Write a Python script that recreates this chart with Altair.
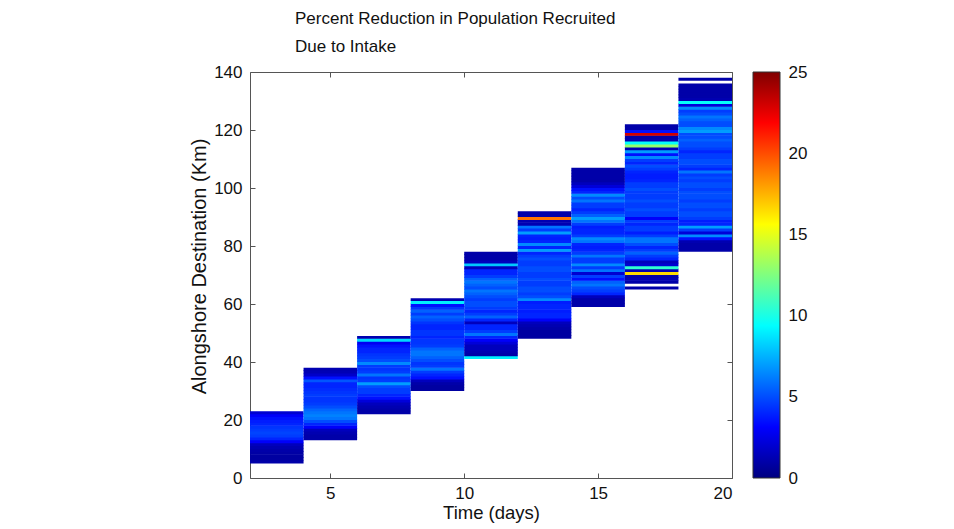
import altair as alt
import pandas as pd

# ---- data ----
T_START = [2, 4, 6, 8, 10, 12, 14, 16, 18]          # start day of each 2-day column
Y_START = [5, 13, 22, 30, 41, 48, 59, 65, 78]      # lowest alongshore km of each column

COL1 = [1, 0.8, 0.8, 0.9, 1, 1.2, 1.5, 3, 4, 4.6, 4.8, 4.6, 4.4, 4, 3.8, 3.5, 3, 2]
COL2 = [1, 1, 1.2, 1.5, 3, 4, 5, 6, 6.3, 6, 5.6, 5, 4.6, 4.4, 4.4, 4.6, 4.4, 4.2, 4, 4,
        5.2, 3.5, 1.8, 1.3, 1.2]
COL3 = [1, 1, 1.2, 1.5, 2.2, 3.5, 4, 4.6, 4.6, 5, 7, 4.6, 4.4, 6, 4.6, 4.4, 4.6, 6.5, 5, 4.6,
        4.4, 4, 4, 3.6, 2.8, 8.5, 1.2]
COL4 = [0.8, 0.8, 1, 1.5, 3.5, 4, 4.6, 6, 4.6, 4.4, 5, 5.5, 6, 6, 5.5, 4.6, 4.4, 4.4, 4, 4.4,
        4.4, 4, 4, 4.4, 5, 5.5, 4.6, 5.5, 4.4, 3.5, 9, 1.2]
COL5 = [9, 1, 1.2, 1.5, 1.5, 2.2, 3, 4, 6, 4.6, 4, 4, 1.5, 4, 5.5, 4.6, 4, 4.6, 5, 5,
        4.6, 5, 5.5, 6, 5, 5.5, 6, 5.5, 4.6, 4, 4, 1.5, 8, 1.5, 1, 1, 1]
COL6 = [0.8, 0.8, 0.8, 1, 1.2, 1.5, 3, 4, 4, 3.8, 4, 4, 3.8, 6.5, 5, 4.6, 5, 5, 4.6, 4.6,
        5, 4.6, 4.6, 5, 5, 4.6, 4.6, 5, 4.6, 4, 7, 4, 6.5, 4, 3.8, 4, 7, 4.6, 6, 1.2,
        1.2, 19, 1, 1]
COL7 = [1, 1, 1, 1.5, 4, 4.6, 5, 6, 5.5, 3.5, 4.6, 2, 6, 4.6, 6.5, 4.6, 4.6, 6, 4.6, 4,
        3.8, 4, 6, 6.5, 4.6, 4, 4, 3.8, 4.6, 6, 7, 5.5, 4.6, 4, 4.6, 4.6, 6, 5, 6.5, 4,
        3.5, 2.2, 1.5, 1, 1, 1, 1, 1]
COL8 = [1, None, 1, 1.2, 1, 16.5, 1.2, 10.5, 2, 1.5, 4, 4.6, 5.5, 4.6, 4, 5, 6, 6, 4.6, 3.8,
        4.6, 4.6, 4, 4.6, 3, 4.6, 4.6, 5, 4.6, 4.6, 5, 4.6, 4.6, 4.6, 5, 4.6, 4.6, 4, 3.8, 3.8,
        4, 4.6, 5, 4, 4.6, 6.5, 3.5, 7, 1.2, 13, 9.5, 1.2, 1, 23, 3.5, 1, 1]
COL9 = [1, 1, 1, 1.2, 3.5, 6.5, 2.2, 4.6, 7, 4, 3.8, 4.6, 5, 5, 4.6, 5, 5, 4.6, 5, 5,
        5, 4.6, 5, 5, 4.6, 5, 4.6, 6, 4, 4.6, 5, 5, 4.6, 4.6, 4, 4.6, 5, 5, 5.5, 5,
        5, 7, 6.5, 5, 5, 5.5, 6, 5, 4.6, 6.5, 2.2, 9.5, 1.2, 1, 1, 1, 1, 1, None, 1]
COLUMNS = [COL1, COL2, COL3, COL4, COL5, COL6, COL7, COL8, COL9]

X_TICKS = [5, 10, 15, 20]
Y_TICKS = [0, 20, 40, 60, 80, 100, 120, 140]
CB_TICKS = [0, 5, 10, 15, 20, 25]
CB_RANGE = [0, 25]

JET_DOMAIN = [0, 3.125, 9.375, 15.625, 21.875, 25]
JET_RANGE = ["#000080", "#0000ff", "#00ffff", "#ffff00", "#ff0000", "#800000"]

# one 1-km cell per row; each cell reaches slightly into the next one (drawn on top)
# so that no anti-aliasing seams show between neighbouring cells
rows = []
for t0, y0, vals in zip(T_START, Y_START, COLUMNS):
    n = len(vals)
    for i, v in enumerate(vals):
        if v is None:
            continue
        nxt_filled = i + 1 < n and vals[i + 1] is not None
        rows.append({"t0": t0, "t1": t0 + 2, "y0": y0 + i,
                     "y1": y0 + i + (1.2 if nxt_filled else 1.0), "value": v})
df = pd.DataFrame(rows)

# colour bar: one rectangle over the whole colour range, filled with the jet gradient
cb_df = pd.DataFrame({"v0": [CB_RANGE[0]], "v1": [CB_RANGE[1]]})
JET_GRADIENT = {
    "gradient": "linear", "x1": 0, "y1": 1, "x2": 0, "y2": 0,
    "stops": [{"offset": d / CB_RANGE[1], "color": c} for d, c in zip(JET_DOMAIN, JET_RANGE)],
}

W, H = 482, 406
FONT = "Liberation Sans"
INK = "#111111"
FRAME = "#555555"
CB_X0, CB_X1 = W + 21, W + 48

xs = alt.Scale(domain=[2, 20], nice=False, zero=False)
ys = alt.Scale(domain=[0, 140], nice=False, zero=False)
cbs = alt.Scale(domain=CB_RANGE, nice=False, zero=False)
cs = alt.Scale(domain=JET_DOMAIN, range=JET_RANGE, interpolate="rgb")

heat = alt.Chart(df).mark_rect().encode(
    x=alt.X("t0:Q", scale=xs, axis=alt.Axis(
        values=X_TICKS, title="Time (days)", ticks=False, tickSize=0, domain=False, grid=False,
        labelPadding=7, labelFontSize=17, titleFontSize=18.5, titlePadding=2,
        titleFontWeight="normal", labelFont=FONT, titleFont=FONT,
        labelColor=INK, titleColor=INK)),
    x2="t1:Q",
    y=alt.Y("y0:Q", scale=ys, axis=alt.Axis(
        values=Y_TICKS, title="Alongshore Destination (Km)", ticks=False, tickSize=0,
        domain=False, grid=False, labelPadding=8, labelFontSize=17, titleFontSize=20,
        titlePadding=4, titleY=194, titleFontWeight="normal", labelFont=FONT,
        titleFont=FONT, labelColor=INK, titleColor=INK)),
    y2="y1:Q",
    color=alt.Color("value:Q", scale=cs, legend=None),
    order=alt.Order("y0:Q", sort="ascending"),
)

tick_style = dict(labels=False, domain=False, grid=False, tickSize=5,
                  tickColor=FRAME, tickWidth=1)

ticks_a = alt.Chart(df).mark_point(opacity=0).encode(
    x=alt.X("t0:Q", scale=xs, title=None,
            axis=alt.Axis(orient="top", offset=-H, values=X_TICKS, **tick_style)),
    y=alt.Y("y0:Q", scale=ys, title=None,
            axis=alt.Axis(orient="right", offset=-W, values=Y_TICKS, **tick_style)),
)
ticks_b = alt.Chart(df).mark_point(opacity=0).encode(
    x=alt.X("t0:Q", scale=xs, title=None,
            axis=alt.Axis(orient="bottom", offset=-H, values=X_TICKS, **tick_style)),
    y=alt.Y("y0:Q", scale=ys, title=None,
            axis=alt.Axis(orient="left", offset=-W, values=Y_TICKS, **tick_style)),
)

cbar = alt.Chart(cb_df).mark_rect(
    fill=JET_GRADIENT, stroke="#333333", strokeWidth=1
).encode(
    x=alt.value(CB_X0), x2=alt.value(CB_X1),
    y=alt.Y("v0:Q", scale=cbs, title=None, axis=alt.Axis(
        orient="right", offset=CB_X1 - W, values=CB_TICKS, ticks=False, tickSize=0,
        domain=False, grid=False, labelPadding=8, labelFontSize=17, labelFont=FONT,
        labelColor=INK)),
    y2="v1:Q",
)

chart = alt.layer(heat, ticks_a, ticks_b, cbar).resolve_scale(
    x="independent", y="independent"
).properties(
    width=W, height=H,
    autosize=alt.AutoSizeParams(type="none"),
    padding={"left": 250, "top": 72, "right": 222, "bottom": 51},
    background="white",
    title=alt.TitleParams(
        text=["Percent Reduction in Population Recruited", "Due to Intake"],
        anchor="start", dx=45, offset=7, fontSize=17, fontWeight="normal",
        font=FONT, color=INK, lineHeight=28, frame="group"),
).configure_view(stroke=FRAME, strokeWidth=1)

chart.save("out.html", embed_options={"renderer": "svg", "actions": False})
